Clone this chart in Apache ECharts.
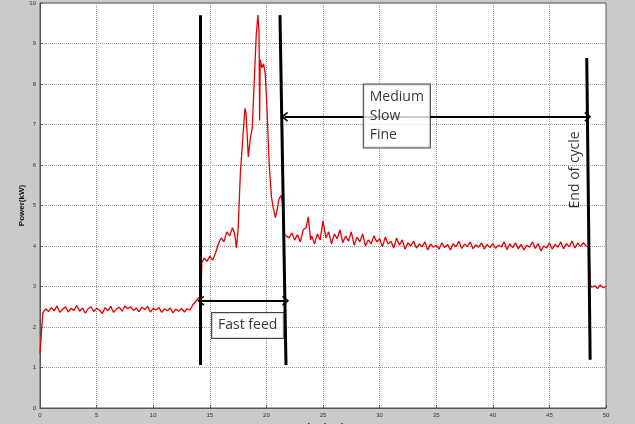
<!DOCTYPE html>
<html>
<head>
<meta charset="utf-8">
<script src="https://cdn.jsdelivr.net/npm/echarts@6/dist/echarts.min.js"></script>
<style>
html,body{margin:0;padding:0;background:#cacaca}
#chart{width:635px;height:424px}
</style>
</head>
<body>
<div id="chart"></div>
<script>
// power trace: [time (s), power (kW)]
const powerTrace = [
  [0,1.35],[0.25,2.35],[0.5,2.45],[0.75,2.38],[1,2.48],[1.25,2.40],[1.5,2.52],[1.75,2.36],
  [2,2.44],[2.25,2.50],[2.5,2.37],[2.75,2.46],[3,2.41],[3.25,2.53],[3.5,2.39],[3.75,2.47],
  [4,2.34],[4.25,2.45],[4.5,2.50],[4.75,2.38],[5,2.46],[5.25,2.42],[5.5,2.33],[5.75,2.48],
  [6,2.40],[6.25,2.51],[6.5,2.36],[6.75,2.44],[7,2.49],[7.25,2.39],[7.5,2.52],[7.75,2.45],
  [8,2.50],[8.25,2.41],[8.5,2.47],[8.75,2.38],[9,2.49],[9.25,2.43],[9.5,2.51],[9.75,2.37],
  [10,2.46],[10.25,2.42],[10.5,2.48],[10.75,2.36],[11,2.45],[11.25,2.40],[11.5,2.47],[11.75,2.35],
  [12,2.44],[12.25,2.39],[12.5,2.46],[12.75,2.37],[13,2.45],[13.25,2.42],[13.5,2.55],[13.75,2.63],
  [14,2.72],[14.2,2.75],[14.3,3.60],[14.5,3.70],[14.75,3.62],[15,3.75],[15.25,3.65],[15.5,3.82],
  [15.75,4.05],[16,4.20],[16.25,4.10],[16.5,4.35],[16.75,4.25],[17,4.45],[17.2,4.30],[17.35,3.95],
  [17.5,4.40],[17.7,5.80],[17.9,6.60],[18.1,7.40],[18.2,7.30],[18.4,6.20],[18.6,6.70],[18.75,6.90],
  [18.9,7.90],[19.1,9.20],[19.25,9.70],[19.35,9.30],[19.4,7.10],[19.45,8.60],[19.6,8.40],[19.75,8.50],
  [19.9,8.25],[20.05,7.40],[20.25,6.00],[20.45,5.20],[20.6,4.95],[20.8,4.70],[20.95,4.90],[21.1,5.15],
  [21.3,5.25],[21.45,5.05],[21.55,4.30],[21.75,4.25],[22,4.20],[22.25,4.32],[22.5,4.15],[22.75,4.28],
  [23,4.10],[23.25,4.40],[23.5,4.45],[23.7,4.72],[23.9,4.15],[24,4.25],[24.25,4.05],[24.5,4.30],
  [24.75,4.15],[25,4.62],[25.25,4.20],[25.5,4.35],[25.75,4.05],[26,4.30],[26.25,4.18],[26.5,4.40],
  [26.75,4.08],[27,4.25],[27.25,4.12],[27.5,4.35],[27.75,4.02],[28,4.22],[28.25,4.10],[28.5,4.30],
  [28.75,4.00],[29,4.15],[29.25,4.05],[29.5,4.25],[29.75,4.10],[30,4.18],[30.25,3.98],[30.5,4.22],
  [30.75,4.05],[31,4.12],[31.25,3.95],[31.5,4.20],[31.75,4.02],[32,4.15],[32.25,3.92],[32.5,4.08],
  [32.75,4.00],[33,4.12],[33.25,3.95],[33.5,4.05],[33.75,3.98],[34,4.10],[34.25,3.90],[34.5,4.05],
  [34.75,3.97],[35,4.02],[35.25,3.92],[35.5,4.08],[35.75,3.96],[36,4.04],[36.25,3.90],[36.5,4.06],
  [36.75,3.98],[37,4.12],[37.25,3.94],[37.5,4.05],[37.75,3.99],[38,4.10],[38.25,3.93],[38.5,4.03],
  [38.75,3.97],[39,4.08],[39.25,3.92],[39.5,4.04],[39.75,3.96],[40,4.06],[40.25,3.94],[40.5,4.02],
  [40.75,3.98],[41,4.10],[41.25,3.91],[41.5,4.05],[41.75,3.96],[42,4.08],[42.25,3.93],[42.5,4.04],
  [42.75,3.90],[43,4.02],[43.25,3.97],[43.5,4.10],[43.75,3.94],[44,4.06],[44.25,3.88],[44.5,4.00],
  [44.75,3.95],[45,4.08],[45.25,3.92],[45.5,4.04],[45.75,3.97],[46,4.10],[46.25,3.93],[46.5,4.06],
  [46.75,3.98],[47,4.12],[47.25,3.95],[47.5,4.07],[47.75,3.99],[48,4.08],[48.25,4.00],[48.5,3.96],
  [48.6,3.05],[48.75,2.98],[49,3.02],[49.25,2.95],[49.5,3.04],[49.75,2.97],[50,3.00]
];

// phase boundary lines: [[t,p],[t,p]]
const phaseLines = [
  [[14.2,1.06],[14.2,9.7]],
  [[21.73,1.06],[21.2,9.7]],
  [[48.6,1.19],[48.3,8.64]]
];
// double-headed arrows
const phaseArrows = [
  [[14.2,2.65],[21.7,2.65]],
  [[21.6,7.19],[48.4,7.19]]
];
// text notes, anchored at left edge: [t, p, text]
const boxNotes = [
  [15.2,2.04,'Fast feed'],
  [28.6,7.21,'Medium\nSlow\nFine']
];
const cycleNote = [47.26,5.88,'End of cycle'];

const chevron = 'path://M5,0 L10,8 L8.6,9 L5,3.2 L1.4,9 L0,8 Z';
const tickFont = {fontSize:6,color:'#333',fontFamily:'Liberation Sans'};

const chart = echarts.init(document.getElementById('chart'));
chart.setOption({
  backgroundColor:'#cacaca',
  animation:false,
  grid:{left:40,right:29,top:3,bottom:16,outerBoundsMode:'none',containLabel:false,
    show:true,backgroundColor:'#fff',borderColor:'#555',borderWidth:1},
  xAxis:{type:'value',min:0,max:50,interval:5,
    name:'Time(sec)',nameLocation:'middle',nameGap:9,
    nameTextStyle:{fontSize:9,fontWeight:'bold',color:'#111',fontFamily:'Liberation Sans',verticalAlign:'top'},
    axisLine:{lineStyle:{color:'#555'}},axisTick:{inside:true,length:3,lineStyle:{color:'#555'}},
    axisLabel:{...tickFont,margin:4},
    splitLine:{lineStyle:{type:'dotted',color:'#999'}}},
  yAxis:{type:'value',min:0,max:10,interval:1,
    name:'Power(kW)',nameLocation:'middle',nameGap:14,nameMoveOverlap:false,
    nameTextStyle:{fontSize:8,fontWeight:'bold',color:'#111',fontFamily:'Liberation Sans'},
    axisLine:{show:true,lineStyle:{color:'#555'}},axisTick:{show:true,inside:true,length:3,lineStyle:{color:'#555'}},
    axisLabel:{...tickFont,margin:4},
    splitLine:{lineStyle:{type:'dotted',color:'#999'}}},
  series:[
    {type:'line',data:powerTrace,showSymbol:false,lineStyle:{color:'#e60000',width:1.3},z:3},
    {type:'line',data:[],silent:true,
      markLine:{silent:true,symbol:'none',label:{show:false},animation:false,
        lineStyle:{color:'#000',width:3,type:'solid'},
        data:phaseLines.map(l=>[{coord:l[0]},{coord:l[1]}])}},
    {type:'line',data:[],silent:true,
      markLine:{silent:true,symbol:[chevron,chevron],symbolSize:[10,7],label:{show:false},animation:false,
        lineStyle:{color:'#000',width:2,type:'solid'},
        data:phaseArrows.map(l=>[{coord:l[0]},{coord:l[1]}])}},
    {type:'scatter',symbolSize:0,silent:true,z:5,
      data:boxNotes.map(n=>({value:[n[0],n[1]],label:{formatter:n[2]}})),
      label:{show:true,position:'inside',color:'#000',fontSize:14,fontFamily:'Open Sans',
        align:'left',lineHeight:19,backgroundColor:'#fff',borderColor:'#111',borderWidth:1,padding:[3,6,3,6]}},
    {type:'scatter',symbolSize:0,silent:true,z:5,
      data:[{value:[cycleNote[0],cycleNote[1]]}],
      label:{show:true,position:'inside',rotate:90,formatter:cycleNote[2],color:'#000',fontSize:14,fontFamily:'Open Sans'}}
  ]
});
</script>
</body>
</html>
